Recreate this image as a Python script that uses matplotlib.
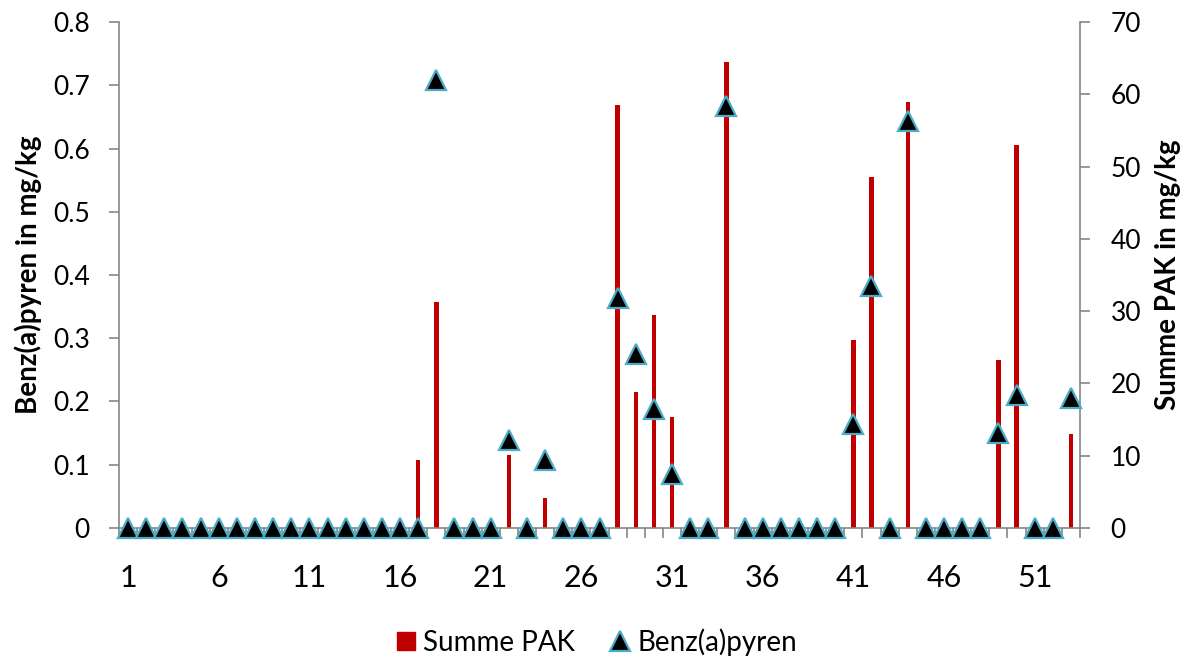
import numpy as np
import matplotlib
matplotlib.use('Agg')
import matplotlib.pyplot as plt
from matplotlib.lines import Line2D
from matplotlib.patches import Patch

plt.rcParams['font.family'] = ['Lato', 'DejaVu Sans']

# Data
samples = list(range(1, 54))
summe_pak = [0, 0, 0, 0, 0, 0, 0, 0, 0, 0, 0, 0, 0, 0, 0, 0,
             9.4, 31.2, 0, 0, 0, 10.1, 0, 4.2, 0, 0, 0,
             58.5, 18.8, 29.4, 15.3, 0, 0, 64.4, 0, 0, 0, 0, 0, 0,
             26.0, 48.6, 0, 59.0, 0, 0, 0, 0, 23.2, 53.0, 0, 0, 13.0]
benz_a_pyren = [0, 0, 0, 0, 0, 0, 0, 0, 0, 0, 0, 0, 0, 0, 0, 0,
                0, 0.708, 0, 0, 0, 0.139, 0, 0.108, 0, 0, 0,
                0.363, 0.275, 0.188, 0.085, 0, 0, 0.667, 0, 0, 0, 0, 0, 0,
                0.164, 0.383, 0, 0.644, 0, 0, 0, 0, 0.150, 0.211, 0, 0, 0.205]
x_labels = [1, 6, 11, 16, 21, 26, 31, 36, 41, 46, 51]

RED = '#C00000'
EDGE = '#4BACC6'
GRAY = '#868686'

fig = plt.figure(figsize=(11.94, 6.59), dpi=100)
ax = fig.add_axes([0.0997, 0.1988, 0.8048, 0.7678])
ax2 = ax.twinx()

# bars on the right axis
ax2.bar(samples, summe_pak, width=0.24, color=RED, zorder=2)
ax2.set_ylim(0, 70)
ax2.set_yticks(np.arange(0, 71, 10))
ax2.set_ylabel('Summe PAK in mg/kg', fontsize=20, fontweight='bold', labelpad=10)

# triangles on the left axis, drawn above the bars
ax.plot(samples, benz_a_pyren, linestyle='none', marker='^', markersize=14,
        markerfacecolor='black', markeredgecolor=EDGE, markeredgewidth=1.6,
        clip_on=False, zorder=5)
ax.set_zorder(ax2.get_zorder() + 1)
ax.patch.set_visible(False)
ax.set_ylim(0, 0.8)
ax.set_yticks(np.arange(0, 0.81, 0.1))
ax.set_yticklabels(['0'] + ['%.1f' % v for v in np.arange(0.1, 0.81, 0.1)])
ax.set_ylabel('Benz(a)pyren in mg/kg', fontsize=20, fontweight='bold', labelpad=8)

ax.set_xlim(0.5, 53.5)
ax.set_xticks(x_labels)
ax.set_xticks(np.arange(0.5, 54, 1), minor=True)
ax.tick_params(axis='x', which='major', length=0, labelsize=22, pad=26)
ax.tick_params(axis='x', which='minor', length=7, color=GRAY, width=1.2)
ax.tick_params(axis='y', length=7, color=GRAY, width=1.2, labelsize=19, pad=14)
ax2.tick_params(axis='y', length=7, color=GRAY, width=1.2, labelsize=19, pad=15)

for a in (ax, ax2):
    a.spines['top'].set_visible(False)
    for s in ('left', 'right', 'bottom'):
        a.spines[s].set_color(GRAY)
        a.spines[s].set_linewidth(1.2)
ax.spines['right'].set_visible(False)
ax2.spines['left'].set_visible(False)
ax2.spines['bottom'].set_visible(False)

handles = [Patch(facecolor=RED, edgecolor=RED),
           Line2D([], [], linestyle='none', marker='^', markersize=14,
                  markerfacecolor='black', markeredgecolor=EDGE, markeredgewidth=1.6)]
fig.legend(handles, ['Summe PAK', 'Benz(a)pyren'], loc='center', bbox_to_anchor=(0.5, 0.026),
           ncol=2, frameon=False, fontsize=20, handlelength=0.65, handleheight=0.65,
           handletextpad=0.3, columnspacing=1.3)

fig.savefig('out.png', dpi=100)
